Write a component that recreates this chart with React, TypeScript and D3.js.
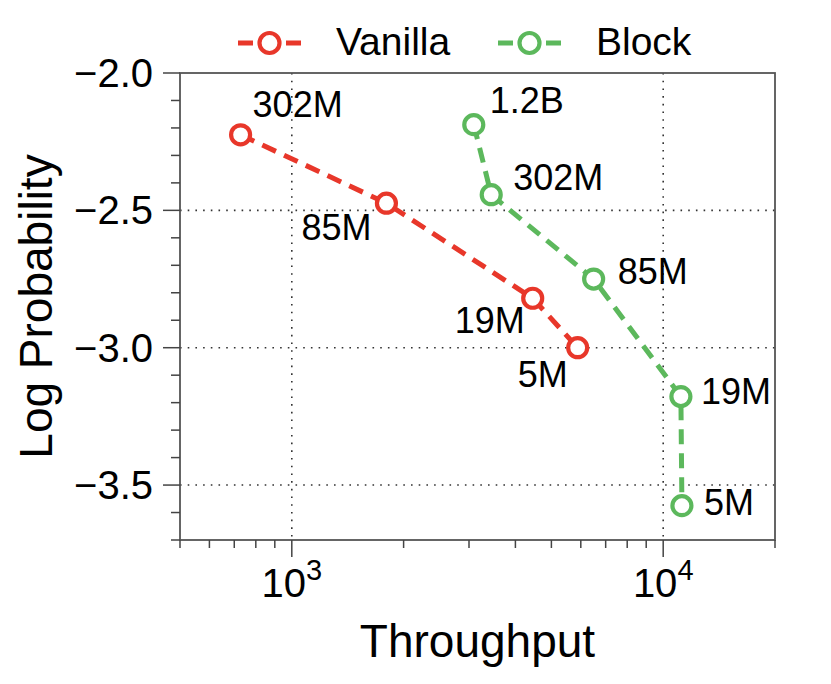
// @ts-nocheck
import { useEffect, useRef } from "react";
import * as d3 from "d3";

const vanillaLabels = ["302M", "85M", "19M", "5M"];
const vanillaThroughput = [728, 1798, 4453, 5885];
const vanillaLogProb = [-2.225, -2.474, -2.82, -3.0];

const blockLabels = ["1.2B", "302M", "85M", "19M", "5M"];
const blockThroughput = [3090, 3443, 6497, 11160, 11230];
const blockLogProb = [-2.188, -2.443, -2.75, -3.178, -3.575];

const yTickValues = [-2.0, -2.5, -3.0, -3.5];
const xTickExponents = [3, 4];

// label nudges (px) relative to each point
const vanillaLabelOffsets = [
  [12, -18],
  [-85, 37],
  [-78, 35],
  [-60, 39],
];
const blockLabelOffsets = [
  [16, -12],
  [22, -5],
  [24, 5],
  [20, 7],
  [22, 9],
];

const RED = "#e8372a";
const GREEN = "#5cb85c";
const FONT = "'Liberation Sans', Arial, Helvetica, sans-serif";

const App = () => {
  const ref = useRef(null);

  useEffect(() => {
    if (!ref.current) return;
    const width = 831;
    const height = 684;
    const margin = { top: 73, right: 56, bottom: 144, left: 180 };
    const innerW = width - margin.left - margin.right;
    const innerH = height - margin.top - margin.bottom;

    d3.select(ref.current).selectAll("*").remove();

    const svg = d3
      .select(ref.current)
      .append("svg")
      .attr("width", width)
      .attr("height", height)
      .style("font-family", FONT)
      .style("display", "block");

    const g = svg
      .append("g")
      .attr("transform", `translate(${margin.left}, ${margin.top})`);

    const x = d3.scaleLog().domain([500, 20000]).range([0, innerW]);
    const y = d3.scaleLinear().domain([-3.7, -2.0]).range([innerH, 0]);

    // grid
    const gridStyle = (sel) =>
      sel
        .attr("stroke", "#333")
        .attr("stroke-width", 1.6)
        .attr("stroke-dasharray", "1.6,6.1")
        .attr("fill", "none");

    g.selectAll(".gx")
      .data(xTickExponents.map((e) => Math.pow(10, e)))
      .join("line")
      .attr("x1", (d) => x(d))
      .attr("x2", (d) => x(d))
      .attr("y1", 0)
      .attr("y2", innerH)
      .call(gridStyle);

    g.selectAll(".gy")
      .data(yTickValues.filter((d) => d !== -2.0))
      .join("line")
      .attr("x1", 0)
      .attr("x2", innerW)
      .attr("y1", (d) => y(d))
      .attr("y2", (d) => y(d))
      .call(gridStyle);

    // frame
    g.append("rect")
      .attr("width", innerW)
      .attr("height", innerH)
      .attr("fill", "none")
      .attr("stroke", "#555")
      .attr("stroke-width", 1.8);

    // x ticks
    const xMinor = [];
    for (let e = 2; e <= 4; e++) {
      for (let m = 1; m <= 9; m++) {
        const v = m * Math.pow(10, e);
        if (v >= 500 && v <= 20000) xMinor.push(v);
      }
    }
    g.selectAll(".xt")
      .data(xMinor)
      .join("line")
      .attr("x1", (d) => x(d))
      .attr("x2", (d) => x(d))
      .attr("y1", innerH)
      .attr("y2", (d) =>
        innerH + (xTickExponents.some((e) => Math.abs(Math.pow(10, e) - d) < 1e-6) ? 17 : 8)
      )
      .attr("stroke", "#444")
      .attr("stroke-width", 1.5);

    const xl = g
      .selectAll(".xl")
      .data(xTickExponents)
      .join("text")
      .attr("x", (d) => x(Math.pow(10, d)))
      .attr("y", innerH + 57)
      .attr("text-anchor", "middle")
      .attr("font-size", 40)
      .attr("fill", "#000");
    xl.append("tspan").text("10");
    xl.append("tspan")
      .attr("dy", -17)
      .attr("font-size", 29)
      .text((d) => d);

    // y ticks
    const yMinor = d3.range(-37, -19).map((d) => d / 10);
    g.selectAll(".yt")
      .data(yMinor)
      .join("line")
      .attr("x1", (d) => (yTickValues.some((t) => Math.abs(t - d) < 1e-6) ? -17 : -9))
      .attr("x2", 0)
      .attr("y1", (d) => y(d))
      .attr("y2", (d) => y(d))
      .attr("stroke", "#444")
      .attr("stroke-width", 1.5);

    g.selectAll(".yl")
      .data(yTickValues)
      .join("text")
      .attr("x", -27)
      .attr("y", (d) => y(d))
      .attr("dy", "0.35em")
      .attr("text-anchor", "end")
      .attr("font-size", 40)
      .attr("fill", "#000")
      .text((d) => d3.format(".1f")(d).replace("-", "\u2212"));

    // axis titles
    svg
      .append("text")
      .attr("x", margin.left + innerW / 2)
      .attr("y", 657)
      .attr("text-anchor", "middle")
      .attr("font-size", 46)
      .text("Throughput");

    svg
      .append("text")
      .attr("transform", `translate(52, ${margin.top + innerH / 2}) rotate(-90)`)
      .attr("text-anchor", "middle")
      .attr("font-size", 46)
      .text("Log Probability");

    // series
    const series = [
      {
        name: "Vanilla",
        color: RED,
        xs: vanillaThroughput,
        ys: vanillaLogProb,
        labels: vanillaLabels,
        offsets: vanillaLabelOffsets,
      },
      {
        name: "Block",
        color: GREEN,
        xs: blockThroughput,
        ys: blockLogProb,
        labels: blockLabels,
        offsets: blockLabelOffsets,
      },
    ];

    const line = d3
      .line()
      .x((d) => x(d[0]))
      .y((d) => y(d[1]));

    series.forEach((s) => {
      const pts = s.xs.map((v, i) => [v, s.ys[i]]);
      g.append("path")
        .datum(pts)
        .attr("d", line)
        .attr("fill", "none")
        .attr("stroke", s.color)
        .attr("stroke-width", 5)
        .attr("stroke-dasharray", "15,9");

      g.selectAll(null)
        .data(pts)
        .join("circle")
        .attr("cx", (d) => x(d[0]))
        .attr("cy", (d) => y(d[1]))
        .attr("r", 9.5)
        .attr("fill", "#fff")
        .attr("stroke", s.color)
        .attr("stroke-width", 4.2);

      g.selectAll(null)
        .data(pts)
        .join("text")
        .attr("x", (d, i) => x(d[0]) + s.offsets[i][0])
        .attr("y", (d, i) => y(d[1]) + s.offsets[i][1])
        .attr("font-size", 36)
        .attr("fill", "#000")
        .text((d, i) => s.labels[i]);
    });

    // legend
    const legendPos = [238, 498];
    series.forEach((s, i) => {
      const lg = svg.append("g").attr("transform", `translate(${legendPos[i]}, 43)`);
      lg.append("line")
        .attr("x1", 0)
        .attr("x2", 63)
        .attr("stroke", s.color)
        .attr("stroke-width", 5)
        .attr("stroke-dasharray", "15,9");
      lg.append("circle")
        .attr("cx", 31.5)
        .attr("r", 10)
        .attr("fill", "#fff")
        .attr("stroke", s.color)
        .attr("stroke-width", 4.2);
      lg.append("text")
        .attr("x", 98)
        .attr("y", 12)
        .attr("font-size", 39)
        .attr("fill", "#000")
        .text(s.name);
    });
  }, []);

  return (
    <div>
      <style>{`body{margin:0}`}</style>
      <div ref={ref} style={{ width: 831, height: 684 }}></div>
    </div>
  );
};

export default App;
